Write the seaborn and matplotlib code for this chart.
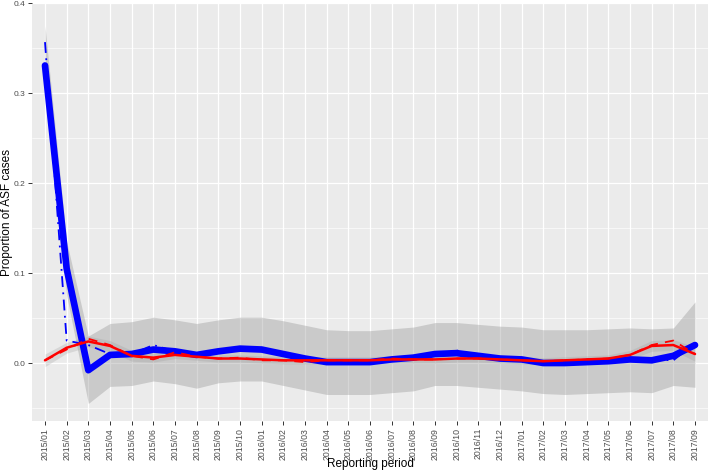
import numpy as np
import pandas as pd
import matplotlib
matplotlib.use("Agg")
import matplotlib.pyplot as plt
import seaborn as sns
from matplotlib.ticker import MultipleLocator

periods = ["2015/01", "2015/02", "2015/03", "2015/04", "2015/05", "2015/06", "2015/07",
           "2015/08", "2015/09", "2015/10",
           "2016/01", "2016/02", "2016/03", "2016/04", "2016/05", "2016/06", "2016/07",
           "2016/08", "2016/09", "2016/10", "2016/11", "2016/12",
           "2017/01", "2017/02", "2017/03", "2017/04", "2017/05", "2017/06", "2017/07",
           "2017/08", "2017/09"]

blue_fit = [0.331, 0.105, -0.008, 0.009, 0.010, 0.015, 0.013, 0.009, 0.013, 0.016,
            0.015, 0.010, 0.005, 0.001, 0.001, 0.001, 0.004, 0.006, 0.010, 0.011,
            0.008, 0.005, 0.004, 0.000, 0.000, 0.001, 0.002, 0.004, 0.003, 0.008, 0.020]
blue_obs = [0.357, 0.025, 0.020, 0.010, 0.010, 0.020, 0.013, 0.009, 0.012, 0.015,
            0.014, 0.009, 0.004, 0.001, 0.000, 0.000, 0.004, 0.006, 0.009, 0.014,
            0.007, 0.005, 0.004, 0.000, 0.000, 0.001, 0.002, 0.004, 0.004, 0.003, 0.022]
blue_upper = [0.375, 0.135, 0.030, 0.044, 0.046, 0.051, 0.048, 0.044, 0.048, 0.051,
              0.051, 0.047, 0.042, 0.037, 0.036, 0.036, 0.038, 0.040, 0.045, 0.045,
              0.043, 0.041, 0.040, 0.037, 0.037, 0.037, 0.038, 0.039, 0.038, 0.039, 0.068]
blue_lower = [0.300, 0.075, -0.045, -0.026, -0.025, -0.020, -0.023, -0.028, -0.022, -0.020,
              -0.020, -0.025, -0.030, -0.035, -0.035, -0.035, -0.033, -0.031, -0.025, -0.025,
              -0.027, -0.029, -0.031, -0.034, -0.035, -0.034, -0.033, -0.032, -0.033, -0.025, -0.027]
red_fit = [0.003, 0.017, 0.024, 0.019, 0.008, 0.006, 0.009, 0.007, 0.005, 0.005,
           0.004, 0.003, 0.003, 0.003, 0.003, 0.003, 0.004, 0.004, 0.004, 0.005,
           0.005, 0.004, 0.003, 0.002, 0.003, 0.004, 0.005, 0.009, 0.019, 0.020, 0.010]
red_obs = [0.003, 0.015, 0.027, 0.020, 0.008, 0.004, 0.012, 0.007, 0.005, 0.006,
           0.003, 0.003, 0.001, 0.003, 0.003, 0.003, 0.005, 0.004, 0.004, 0.005,
           0.005, 0.004, 0.003, 0.002, 0.003, 0.004, 0.005, 0.009, 0.020, 0.025, 0.010]
red_upper = [0.010, 0.023, 0.030, 0.025, 0.014, 0.011, 0.013, 0.011, 0.009, 0.009,
             0.008, 0.007, 0.007, 0.007, 0.007, 0.007, 0.008, 0.008, 0.008, 0.009,
             0.009, 0.008, 0.007, 0.006, 0.007, 0.008, 0.009, 0.014, 0.025, 0.026, 0.018]
red_lower = [-0.004, 0.011, 0.018, 0.013, 0.002, 0.001, 0.005, 0.003, 0.001, 0.001,
             0.000, -0.001, -0.001, -0.001, -0.001, -0.001, 0.000, 0.000, 0.000, 0.001,
             0.001, 0.000, -0.001, -0.002, -0.001, 0.000, 0.001, 0.004, 0.013, 0.014, 0.002]

df = pd.DataFrame({"period": periods, "pos": np.arange(len(periods)),
                   "blue_fit": blue_fit, "blue_obs": blue_obs,
                   "red_fit": red_fit, "red_obs": red_obs})

sns.set_theme(style="darkgrid")
plt.rcParams["font.family"] = ["Liberation Sans", "DejaVu Sans"]

fig = plt.figure(figsize=(7.09, 4.72), dpi=100)
ax = fig.add_axes([32/709, 1 - 421/472, (708 - 32)/709, (421 - 3)/472])
ax.set_facecolor("#EBEBEB")

x = df["pos"].values
ax.fill_between(x, blue_lower, blue_upper, color="#999999", alpha=0.4, lw=0, zorder=1)
ax.fill_between(x, red_lower, red_upper, color="#999999", alpha=0.25, lw=0, zorder=1)

sns.lineplot(data=df, x="pos", y="blue_fit", ax=ax, color="#0000FF", lw=4.8, zorder=3)
sns.lineplot(data=df, x="pos", y="blue_obs", ax=ax, color="#0000FF", lw=1.3,
             linestyle=(0, (6, 3, 1, 3)), zorder=4)
sns.lineplot(data=df, x="pos", y="red_fit", ax=ax, color="#FF0000", lw=1.8, zorder=5)
sns.lineplot(data=df, x="pos", y="red_obs", ax=ax, color="#FF0000", lw=1.3,
             linestyle=(0, (5, 4)), zorder=5)

ax.set_xlim(-0.6, len(periods) - 1 + 0.6)
ax.set_ylim(-0.0645, 0.4005)
ax.set_xticks(x)
ax.set_xticklabels(periods, rotation=90, fontsize=6.3, color="#4D4D4D")
ax.yaxis.set_major_locator(MultipleLocator(0.1))
ax.yaxis.set_minor_locator(MultipleLocator(0.05))
ax.set_yticks([0.0, 0.1, 0.2, 0.3, 0.4])
ax.set_yticklabels(["0.0", "0.1", "0.2", "0.3", "0.4"], fontsize=6, color="#4D4D4D")
ax.grid(which="major", color="white", lw=0.9)
ax.grid(which="minor", axis="y", color="white", lw=0.45)
ax.tick_params(axis="both", which="major", length=3, width=0.7, color="#333333", pad=2,
               bottom=True, left=True)
ax.tick_params(axis="y", which="minor", length=0)
for s in ax.spines.values():
    s.set_visible(False)
ax.set_xlabel("Reporting period", fontsize=8.5, color="black", va="center")
ax.set_ylabel("Proportion of ASF cases", fontsize=8.5, color="black", va="center")
ax.xaxis.set_label_coords(0.5, (421 - 464) / 418)
ax.yaxis.set_label_coords((7 - 32) / 676, 0.5)

fig.savefig("out.png", dpi=100)
